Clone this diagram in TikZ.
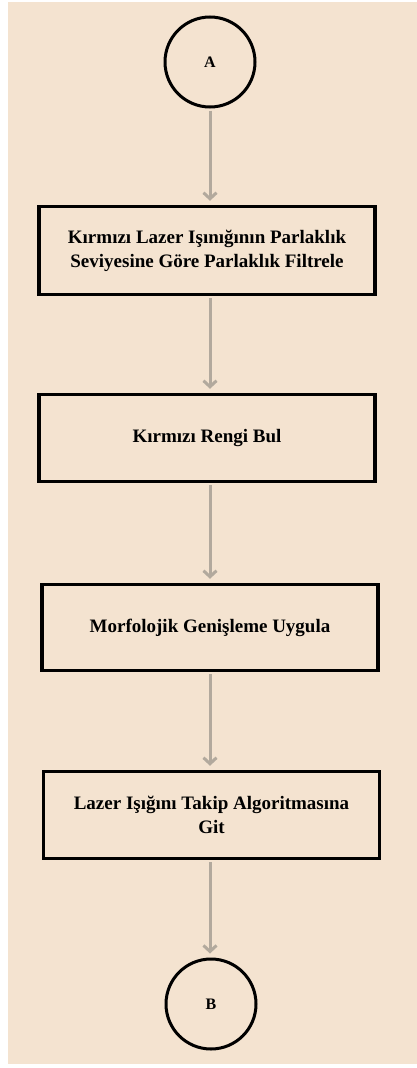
\documentclass[tikz,border=0pt]{standalone}
\usepackage{fontspec}
\setmainfont{Liberation Serif}
\usetikzlibrary{arrows.meta}
\definecolor{bgbeige}{HTML}{F4E3D0}
\definecolor{arrgray}{HTML}{B2A99D}
\begin{document}
\begin{tikzpicture}[x=1pt,y=-1pt,
  stepbox/.style={draw=black, line width=3.5pt, minimum width=336pt, align=center, font=\bfseries\fontsize{19}{24}\selectfont, inner sep=0pt},
  termcirc/.style={circle, draw=black, line width=3pt, minimum size=90pt, inner sep=0pt, font=\bfseries\fontsize{16}{18}\selectfont},
  flow/.style={draw=arrgray, line width=3pt, -{Straight Barb[length=6pt,width=13pt,line width=3pt]}, shorten <=2pt, shorten >=4pt}]
\useasboundingbox (0,0) rectangle (417,1068);
\fill[white] (0,0) rectangle (417,1068);
\fill[bgbeige] (8,2) rectangle (417,1064);
\node[termcirc] (A) at (210,62) {A};
\node[stepbox, minimum height=88pt] (s1) at (207,250.5) {Kırmızı Lazer Işınığının Parlaklık\\Seviyesine Göre Parlaklık Filtrele};
\node[stepbox, minimum height=87pt] (s2) at (207,438) {Kırmızı Rengi Bul};
\node[stepbox, minimum height=86pt] (s3) at (210,627.5) {Morfolojik Genişleme Uygula};
\node[stepbox, minimum height=87pt] (s4) at (211.5,815) {Lazer Işığını Takip Algoritmasına\\Git};
\node[termcirc] (B) at (211,1004) {B};
\draw[flow] (A.south) -- (A.south |- s1.north);
\draw[flow] (s1.south -| A.south) -- (A.south |- s2.north);
\draw[flow] (s2.south -| A.south) -- (A.south |- s3.north);
\draw[flow] (s3.south -| A.south) -- (A.south |- s4.north);
\draw[flow] (s4.south -| A.south) -- (A.south |- B.north);
\end{tikzpicture}
\end{document}
